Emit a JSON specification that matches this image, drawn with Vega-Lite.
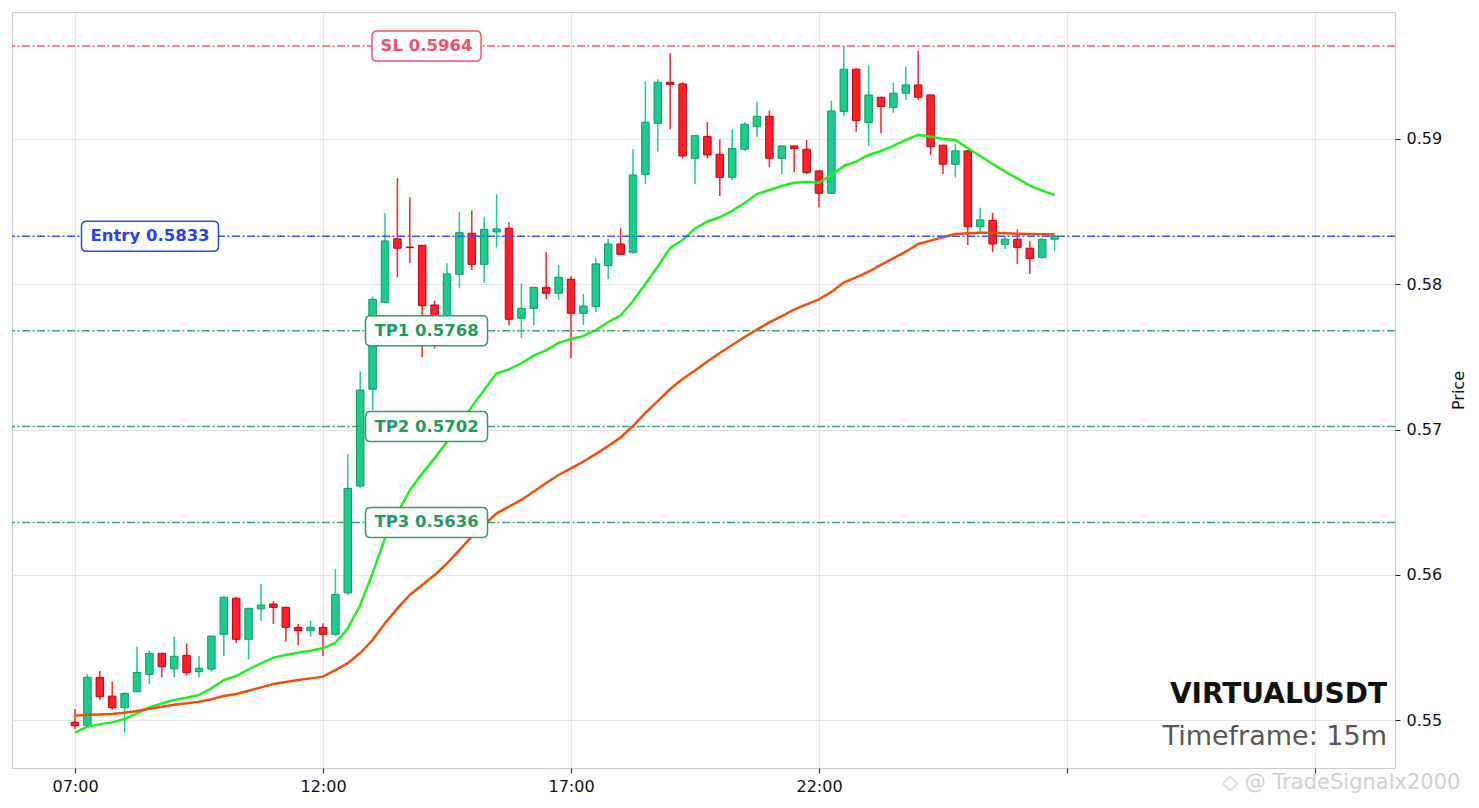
{
"$schema": "https://vega.github.io/schema/vega-lite/v6.json",
"width": 1383, "height": 756,
"autosize": {"type": "none"},
"padding": {"left": 12, "top": 12, "right": 84, "bottom": 40},
"background": "white",
"config": {
  "font": "DejaVu Sans",
  "view": {"stroke": "#cccccc", "strokeWidth": 1},
  "axis": {"domain": false, "gridColor": "#e5e5e5", "gridWidth": 1, "tickColor": "#222222", "tickSize": 5, "labelFont": "DejaVu Sans", "labelFontSize": 16, "labelColor": "#111111", "titleFont": "DejaVu Sans", "titleFontSize": 16, "titleFontWeight": "normal", "titleColor": "#111111"}
},
"datasets": {
"candles": [
{"t":"2025-01-01T07:00:00","o":0.54984,"h":0.55076,"l":0.54938,"c":0.54961,"ef":0.54913,"es":0.5503},
{"t":"2025-01-01T07:15:00","o":0.54964,"h":0.55315,"l":0.5496,"c":0.55294,"ef":0.54954,"es":0.55036},
{"t":"2025-01-01T07:30:00","o":0.55294,"h":0.55337,"l":0.55138,"c":0.5516,"ef":0.54972,"es":0.55039},
{"t":"2025-01-01T07:45:00","o":0.55165,"h":0.55264,"l":0.55069,"c":0.55085,"ef":0.54984,"es":0.55041},
{"t":"2025-01-01T08:00:00","o":0.55085,"h":0.5519,"l":0.54915,"c":0.55184,"ef":0.55007,"es":0.5505},
{"t":"2025-01-01T08:15:00","o":0.55195,"h":0.55505,"l":0.5519,"c":0.55328,"ef":0.55046,"es":0.55062},
{"t":"2025-01-01T08:30:00","o":0.55315,"h":0.55482,"l":0.55246,"c":0.55459,"ef":0.55087,"es":0.55078},
{"t":"2025-01-01T08:45:00","o":0.55459,"h":0.55465,"l":0.55294,"c":0.55367,"ef":0.55115,"es":0.55092},
{"t":"2025-01-01T09:00:00","o":0.55353,"h":0.55574,"l":0.55294,"c":0.55439,"ef":0.55138,"es":0.55105},
{"t":"2025-01-01T09:15:00","o":0.55445,"h":0.55528,"l":0.55308,"c":0.55326,"ef":0.55154,"es":0.55115},
{"t":"2025-01-01T09:30:00","o":0.55333,"h":0.55441,"l":0.55294,"c":0.55356,"ef":0.55172,"es":0.55126},
{"t":"2025-01-01T09:45:00","o":0.55351,"h":0.5558,"l":0.55333,"c":0.55578,"ef":0.55218,"es":0.55143},
{"t":"2025-01-01T10:00:00","o":0.5559,"h":0.5585,"l":0.55441,"c":0.55845,"ef":0.55275,"es":0.55165},
{"t":"2025-01-01T10:15:00","o":0.55838,"h":0.55849,"l":0.55528,"c":0.55556,"ef":0.55303,"es":0.55179},
{"t":"2025-01-01T10:30:00","o":0.55556,"h":0.55772,"l":0.55418,"c":0.55769,"ef":0.55349,"es":0.55202},
{"t":"2025-01-01T10:45:00","o":0.55766,"h":0.55936,"l":0.55684,"c":0.55792,"ef":0.5539,"es":0.55225},
{"t":"2025-01-01T11:00:00","o":0.55799,"h":0.55819,"l":0.55661,"c":0.55776,"ef":0.55429,"es":0.55248},
{"t":"2025-01-01T11:15:00","o":0.55776,"h":0.5578,"l":0.55539,"c":0.55638,"ef":0.55448,"es":0.55262},
{"t":"2025-01-01T11:30:00","o":0.55638,"h":0.55661,"l":0.55516,"c":0.55615,"ef":0.55463,"es":0.55275},
{"t":"2025-01-01T11:45:00","o":0.55615,"h":0.55684,"l":0.55574,"c":0.55638,"ef":0.55477,"es":0.55287},
{"t":"2025-01-01T12:00:00","o":0.55638,"h":0.55666,"l":0.55441,"c":0.5559,"ef":0.55494,"es":0.55299},
{"t":"2025-01-01T12:15:00","o":0.5559,"h":0.56038,"l":0.5558,"c":0.55865,"ef":0.55532,"es":0.55344},
{"t":"2025-01-01T12:30:00","o":0.55876,"h":0.56829,"l":0.55861,"c":0.56595,"ef":0.55631,"es":0.55392},
{"t":"2025-01-01T12:45:00","o":0.56611,"h":0.574,"l":0.566,"c":0.57272,"ef":0.55792,"es":0.55461},
{"t":"2025-01-01T13:00:00","o":0.57277,"h":0.57914,"l":0.57134,"c":0.57896,"ef":0.5601,"es":0.55551},
{"t":"2025-01-01T13:15:00","o":0.57876,"h":0.58489,"l":0.5787,"c":0.58298,"ef":0.56251,"es":0.55666},
{"t":"2025-01-01T13:30:00","o":0.58312,"h":0.5873,"l":0.58048,"c":0.58248,"ef":0.56423,"es":0.55769},
{"t":"2025-01-01T13:45:00","o":0.58256,"h":0.58599,"l":0.58144,"c":0.58252,"ef":0.56583,"es":0.55861},
{"t":"2025-01-01T14:00:00","o":0.58268,"h":0.5827,"l":0.57497,"c":0.57852,"ef":0.56698,"es":0.55929},
{"t":"2025-01-01T14:15:00","o":0.57857,"h":0.57887,"l":0.57559,"c":0.57777,"ef":0.56802,"es":0.55998},
{"t":"2025-01-01T14:30:00","o":0.57777,"h":0.58144,"l":0.5774,"c":0.58071,"ef":0.56916,"es":0.56079},
{"t":"2025-01-01T14:45:00","o":0.58069,"h":0.58496,"l":0.57972,"c":0.58355,"ef":0.57031,"es":0.5617},
{"t":"2025-01-01T15:00:00","o":0.58351,"h":0.58507,"l":0.58098,"c":0.58137,"ef":0.57157,"es":0.56262},
{"t":"2025-01-01T15:15:00","o":0.58137,"h":0.58465,"l":0.58011,"c":0.58378,"ef":0.57272,"es":0.56343},
{"t":"2025-01-01T15:30:00","o":0.5836,"h":0.58619,"l":0.58252,"c":0.58381,"ef":0.57387,"es":0.56423},
{"t":"2025-01-01T15:45:00","o":0.58385,"h":0.58427,"l":0.57716,"c":0.57759,"ef":0.57414,"es":0.56469},
{"t":"2025-01-01T16:00:00","o":0.57766,"h":0.58007,"l":0.5763,"c":0.57834,"ef":0.57456,"es":0.56515},
{"t":"2025-01-01T16:15:00","o":0.57834,"h":0.57983,"l":0.5772,"c":0.57979,"ef":0.57508,"es":0.56573},
{"t":"2025-01-01T16:30:00","o":0.57979,"h":0.5822,"l":0.57896,"c":0.57938,"ef":0.57547,"es":0.56632},
{"t":"2025-01-01T16:45:00","o":0.57938,"h":0.58133,"l":0.57892,"c":0.58048,"ef":0.57596,"es":0.56687},
{"t":"2025-01-01T17:00:00","o":0.58034,"h":0.58057,"l":0.5749,"c":0.578,"ef":0.57623,"es":0.56732},
{"t":"2025-01-01T17:15:00","o":0.578,"h":0.57933,"l":0.5772,"c":0.5785,"ef":0.57644,"es":0.5678},
{"t":"2025-01-01T17:30:00","o":0.57846,"h":0.58179,"l":0.57811,"c":0.5814,"ef":0.57685,"es":0.56831},
{"t":"2025-01-01T17:45:00","o":0.58128,"h":0.58312,"l":0.58034,"c":0.58277,"ef":0.5774,"es":0.56886},
{"t":"2025-01-01T18:00:00","o":0.58277,"h":0.58385,"l":0.582,"c":0.58206,"ef":0.57785,"es":0.56945},
{"t":"2025-01-01T18:15:00","o":0.5822,"h":0.58929,"l":0.5821,"c":0.58752,"ef":0.57885,"es":0.57024},
{"t":"2025-01-01T18:30:00","o":0.58757,"h":0.59395,"l":0.5869,"c":0.59115,"ef":0.58002,"es":0.57114},
{"t":"2025-01-01T18:45:00","o":0.59108,"h":0.59411,"l":0.58913,"c":0.5939,"ef":0.58122,"es":0.57196},
{"t":"2025-01-01T19:00:00","o":0.5939,"h":0.5959,"l":0.59067,"c":0.59376,"ef":0.5825,"es":0.57279},
{"t":"2025-01-01T19:15:00","o":0.59379,"h":0.5939,"l":0.58867,"c":0.58883,"ef":0.58305,"es":0.57348},
{"t":"2025-01-01T19:30:00","o":0.58867,"h":0.59025,"l":0.5869,"c":0.59023,"ef":0.58384,"es":0.57406},
{"t":"2025-01-01T19:45:00","o":0.59016,"h":0.59115,"l":0.58867,"c":0.5889,"ef":0.58432,"es":0.57468},
{"t":"2025-01-01T20:00:00","o":0.58895,"h":0.58998,"l":0.58608,"c":0.58736,"ef":0.58461,"es":0.57527},
{"t":"2025-01-01T20:15:00","o":0.58736,"h":0.59067,"l":0.58718,"c":0.58936,"ef":0.58506,"es":0.57582},
{"t":"2025-01-01T20:30:00","o":0.58929,"h":0.59115,"l":0.5892,"c":0.59101,"ef":0.58559,"es":0.57637},
{"t":"2025-01-01T20:45:00","o":0.59085,"h":0.59257,"l":0.59016,"c":0.59156,"ef":0.58621,"es":0.57688},
{"t":"2025-01-01T21:00:00","o":0.59156,"h":0.59195,"l":0.58805,"c":0.58867,"ef":0.58649,"es":0.57737},
{"t":"2025-01-01T21:15:00","o":0.58867,"h":0.58955,"l":0.58759,"c":0.58952,"ef":0.58676,"es":0.57781},
{"t":"2025-01-01T21:30:00","o":0.58952,"h":0.58955,"l":0.58771,"c":0.58933,"ef":0.58699,"es":0.57826},
{"t":"2025-01-01T21:45:00","o":0.58929,"h":0.58993,"l":0.58759,"c":0.58768,"ef":0.58706,"es":0.57861},
{"t":"2025-01-01T22:00:00","o":0.5878,"h":0.58782,"l":0.5853,"c":0.58626,"ef":0.58699,"es":0.57896},
{"t":"2025-01-01T22:15:00","o":0.58626,"h":0.59264,"l":0.5862,"c":0.59193,"ef":0.58752,"es":0.57947},
{"t":"2025-01-01T22:30:00","o":0.5919,"h":0.59636,"l":0.59159,"c":0.5948,"ef":0.58814,"es":0.58012},
{"t":"2025-01-01T22:45:00","o":0.5948,"h":0.59487,"l":0.5905,"c":0.59126,"ef":0.58844,"es":0.58047},
{"t":"2025-01-01T23:00:00","o":0.59112,"h":0.59505,"l":0.58952,"c":0.59303,"ef":0.5889,"es":0.58086},
{"t":"2025-01-01T23:15:00","o":0.59287,"h":0.5929,"l":0.59039,"c":0.59223,"ef":0.58917,"es":0.58133},
{"t":"2025-01-01T23:30:00","o":0.59216,"h":0.59388,"l":0.59181,"c":0.59315,"ef":0.58952,"es":0.58179},
{"t":"2025-01-01T23:45:00","o":0.59315,"h":0.59498,"l":0.59269,"c":0.59372,"ef":0.58993,"es":0.58224},
{"t":"2025-01-02T00:00:00","o":0.59372,"h":0.59608,"l":0.5927,"c":0.59287,"ef":0.59028,"es":0.58277},
{"t":"2025-01-02T00:15:00","o":0.59303,"h":0.59305,"l":0.5889,"c":0.58947,"ef":0.59016,"es":0.583},
{"t":"2025-01-02T00:30:00","o":0.58957,"h":0.5896,"l":0.58759,"c":0.58826,"ef":0.59,"es":0.58323},
{"t":"2025-01-02T00:45:00","o":0.58826,"h":0.58966,"l":0.58734,"c":0.58918,"ef":0.58993,"es":0.58346},
{"t":"2025-01-02T01:00:00","o":0.58918,"h":0.5892,"l":0.5827,"c":0.58396,"ef":0.58936,"es":0.58351},
{"t":"2025-01-02T01:15:00","o":0.58396,"h":0.58527,"l":0.58362,"c":0.58443,"ef":0.58883,"es":0.58355},
{"t":"2025-01-02T01:30:00","o":0.5844,"h":0.58493,"l":0.5822,"c":0.58277,"ef":0.58828,"es":0.58355},
{"t":"2025-01-02T01:45:00","o":0.58275,"h":0.58332,"l":0.58243,"c":0.5831,"ef":0.58775,"es":0.58351},
{"t":"2025-01-02T02:00:00","o":0.5831,"h":0.58378,"l":0.5814,"c":0.58254,"ef":0.58729,"es":0.58348},
{"t":"2025-01-02T02:15:00","o":0.58248,"h":0.58296,"l":0.58071,"c":0.58176,"ef":0.58679,"es":0.58346},
{"t":"2025-01-02T02:30:00","o":0.58183,"h":0.58315,"l":0.5818,"c":0.5831,"ef":0.58644,"es":0.58344},
{"t":"2025-01-02T02:45:00","o":0.5831,"h":0.5834,"l":0.58231,"c":0.58332,"ef":0.58614,"es":0.58344}
],
"levels": [
{"kind":"SL","p":0.5964,"txt":"SL 0.5964","lt":"2025-01-01T14:05:13"},
{"kind":"Entry","p":0.5833,"txt":"Entry 0.5833","lt":"2025-01-01T08:30:43"},
{"kind":"TP","p":0.5768,"txt":"TP1 0.5768","lt":"2025-01-01T14:05:13"},
{"kind":"TP","p":0.5702,"txt":"TP2 0.5702","lt":"2025-01-01T14:05:13"},
{"kind":"TP","p":0.5636,"txt":"TP3 0.5636","lt":"2025-01-01T14:05:13"}
]
},
"layer": [
{
 "data": {"name": "candles"},
 "mark": {"type": "rule", "strokeWidth": 1.5},
 "encoding": {
  "x": {"field": "t", "type": "temporal", "title": null,
        "scale": {"domain": [{"year":2025,"month":1,"date":1,"hours":5,"minutes":43,"seconds":47},{"year":2025,"month":1,"date":2,"hours":9,"minutes":36,"seconds":47}], "nice": false, "padding": 0},
        "axis": {"values": [{"year":2025,"month":1,"date":1,"hours":7},{"year":2025,"month":1,"date":1,"hours":12},{"year":2025,"month":1,"date":1,"hours":17},{"year":2025,"month":1,"date":1,"hours":22},{"year":2025,"month":1,"date":2,"hours":3},{"year":2025,"month":1,"date":2,"hours":8}],
                 "format": "%H:%M", "labelExpr": "(hours(datum.value) == 3 || hours(datum.value) == 8) ? '' : datum.label", "labelPadding": 5, "labelFlush": false, "labelOverlap": false}},
  "y": {"field": "l", "type": "quantitative", "title": "Price",
        "scale": {"domain": [0.5467, 0.59874], "nice": false, "zero": false, "padding": 0},
        "axis": {"orient": "right", "values": [0.55, 0.56, 0.57, 0.58, 0.59], "format": ".2f", "labelPadding": 6, "titleAngle": -90, "titlePadding": 25}},
  "y2": {"field": "h"},
  "color": {"condition": {"test": "datum.c >= datum.o", "value": "#1bcc8c"}, "value": "#ff1f2a"}
 }
},
{
 "data": {"name": "candles"},
 "mark": {"type": "bar", "width": 7.5, "strokeWidth": 1},
 "encoding": {
  "x": {"field": "t", "type": "temporal", "title": null},
  "y": {"field": "o", "type": "quantitative", "title": "Price"},
  "y2": {"field": "c"},
  "color": {"condition": {"test": "datum.c >= datum.o", "value": "#1bcc8c"}, "value": "#ff1f2a"},
  "stroke": {"condition": {"test": "datum.c >= datum.o", "value": "#0e9c62"}, "value": "#c4000a"}
 }
},
{
 "data": {"name": "candles"},
 "mark": {"type": "line", "color": "#1ef01e", "strokeWidth": 2.5},
 "encoding": {
  "x": {"field": "t", "type": "temporal", "title": null},
  "y": {"field": "ef", "type": "quantitative", "title": "Price"}
 }
},
{
 "data": {"name": "candles"},
 "mark": {"type": "line", "color": "#f04e0a", "strokeWidth": 2.5},
 "encoding": {
  "x": {"field": "t", "type": "temporal", "title": null},
  "y": {"field": "es", "type": "quantitative", "title": "Price"}
 }
},
{
 "data": {"name": "levels"},
 "transform": [{"filter": "datum.kind == 'SL'"}],
 "layer": [
  {"mark": {"type": "rule", "color": "#f55a6c", "strokeWidth": 1.5, "strokeDash": [8, 2.5, 2, 2.5]},
   "encoding": {"y": {"field": "p", "type": "quantitative", "title": "Price"}}},
  {"mark": {"type": "point", "filled": true, "fill": "white", "opacity": 1, "stroke": "#f3566b", "strokeWidth": 1.5, "size": 11881,
            "shape": "M -0.9083,-0.2752 L 0.9083,-0.2752 Q 1,-0.2752 1,-0.1835 L 1,0.1835 Q 1,0.2752 0.9083,0.2752 L -0.9083,0.2752 Q -1,0.2752 -1,0.1835 L -1,-0.1835 Q -1,-0.2752 -0.9083,-0.2752 Z"},
   "encoding": {"x": {"field": "lt", "type": "temporal", "title": null}, "y": {"field": "p", "type": "quantitative", "title": "Price"}}},
  {"mark": {"type": "text", "fontSize": 16.5, "fontWeight": "bold", "color": "#f0506a", "align": "center", "baseline": "middle"},
   "encoding": {"x": {"field": "lt", "type": "temporal", "title": null}, "y": {"field": "p", "type": "quantitative", "title": "Price"}, "text": {"field": "txt"}}}
 ]
},
{
 "data": {"name": "levels"},
 "transform": [{"filter": "datum.kind == 'Entry'"}],
 "layer": [
  {"mark": {"type": "rule", "color": "#3553ff", "strokeWidth": 1.5, "strokeDash": [8, 2.5, 2, 2.5]},
   "encoding": {"y": {"field": "p", "type": "quantitative", "title": "Price"}}},
  {"mark": {"type": "point", "filled": true, "fill": "white", "opacity": 1, "stroke": "#2a48f5", "strokeWidth": 1.5, "size": 18769,
            "shape": "M -0.927,-0.219 L 0.927,-0.219 Q 1,-0.219 1,-0.146 L 1,0.146 Q 1,0.219 0.927,0.219 L -0.927,0.219 Q -1,0.219 -1,0.146 L -1,-0.146 Q -1,-0.219 -0.927,-0.219 Z"},
   "encoding": {"x": {"field": "lt", "type": "temporal", "title": null}, "y": {"field": "p", "type": "quantitative", "title": "Price"}}},
  {"mark": {"type": "text", "fontSize": 16.5, "fontWeight": "bold", "color": "#2442ee", "align": "center", "baseline": "middle"},
   "encoding": {"x": {"field": "lt", "type": "temporal", "title": null}, "y": {"field": "p", "type": "quantitative", "title": "Price"}, "text": {"field": "txt"}}}
 ]
},
{
 "data": {"name": "levels"},
 "transform": [{"filter": "datum.kind == 'TP'"}],
 "layer": [
  {"mark": {"type": "rule", "color": "#3aa673", "strokeWidth": 1.5, "strokeDash": [8, 2.5, 2, 2.5]},
   "encoding": {"y": {"field": "p", "type": "quantitative", "title": "Price"}}},
  {"mark": {"type": "point", "filled": true, "fill": "white", "opacity": 1, "stroke": "#2e9e68", "strokeWidth": 1.5, "size": 14884,
            "shape": "M -0.918,-0.2459 L 0.918,-0.2459 Q 1,-0.2459 1,-0.1639 L 1,0.1639 Q 1,0.2459 0.918,0.2459 L -0.918,0.2459 Q -1,0.2459 -1,0.1639 L -1,-0.1639 Q -1,-0.2459 -0.918,-0.2459 Z"},
   "encoding": {"x": {"field": "lt", "type": "temporal", "title": null}, "y": {"field": "p", "type": "quantitative", "title": "Price"}}},
  {"mark": {"type": "text", "fontSize": 16.5, "fontWeight": "bold", "color": "#1f9a60", "align": "center", "baseline": "middle"},
   "encoding": {"x": {"field": "lt", "type": "temporal", "title": null}, "y": {"field": "p", "type": "quantitative", "title": "Price"}, "text": {"field": "txt"}}}
 ]
},
{
 "data": {"values": [{"t": "2025-01-02T09:27:07", "p": 0.55117, "txt": "VIRTUALUSDT"}]},
 "mark": {"type": "text", "align": "right", "baseline": "alphabetic", "fontSize": 28, "fontWeight": "bold", "color": "#111111"},
 "encoding": {"x": {"field": "t", "type": "temporal", "title": null}, "y": {"field": "p", "type": "quantitative", "title": "Price"}, "text": {"field": "txt"}}
},
{
 "data": {"values": [{"t": "2025-01-02T09:27:07", "p": 0.54828, "txt": "Timeframe: 15m"}]},
 "mark": {"type": "text", "align": "right", "baseline": "alphabetic", "fontSize": 27, "color": "#555555"},
 "encoding": {"x": {"field": "t", "type": "temporal", "title": null}, "y": {"field": "p", "type": "quantitative", "title": "Price"}, "text": {"field": "txt"}}
},
{
 "data": {"values": [{"t": "2025-01-02T06:07:30", "p": 0.54566, "txt": "◇ @ TradeSignalx2000"}]},
 "mark": {"type": "text", "align": "left", "baseline": "middle", "fontSize": 21, "color": "#cfcfcf"},
 "encoding": {"x": {"field": "t", "type": "temporal", "title": null}, "y": {"field": "p", "type": "quantitative", "title": "Price"}, "text": {"field": "txt"}}
}
]
}
